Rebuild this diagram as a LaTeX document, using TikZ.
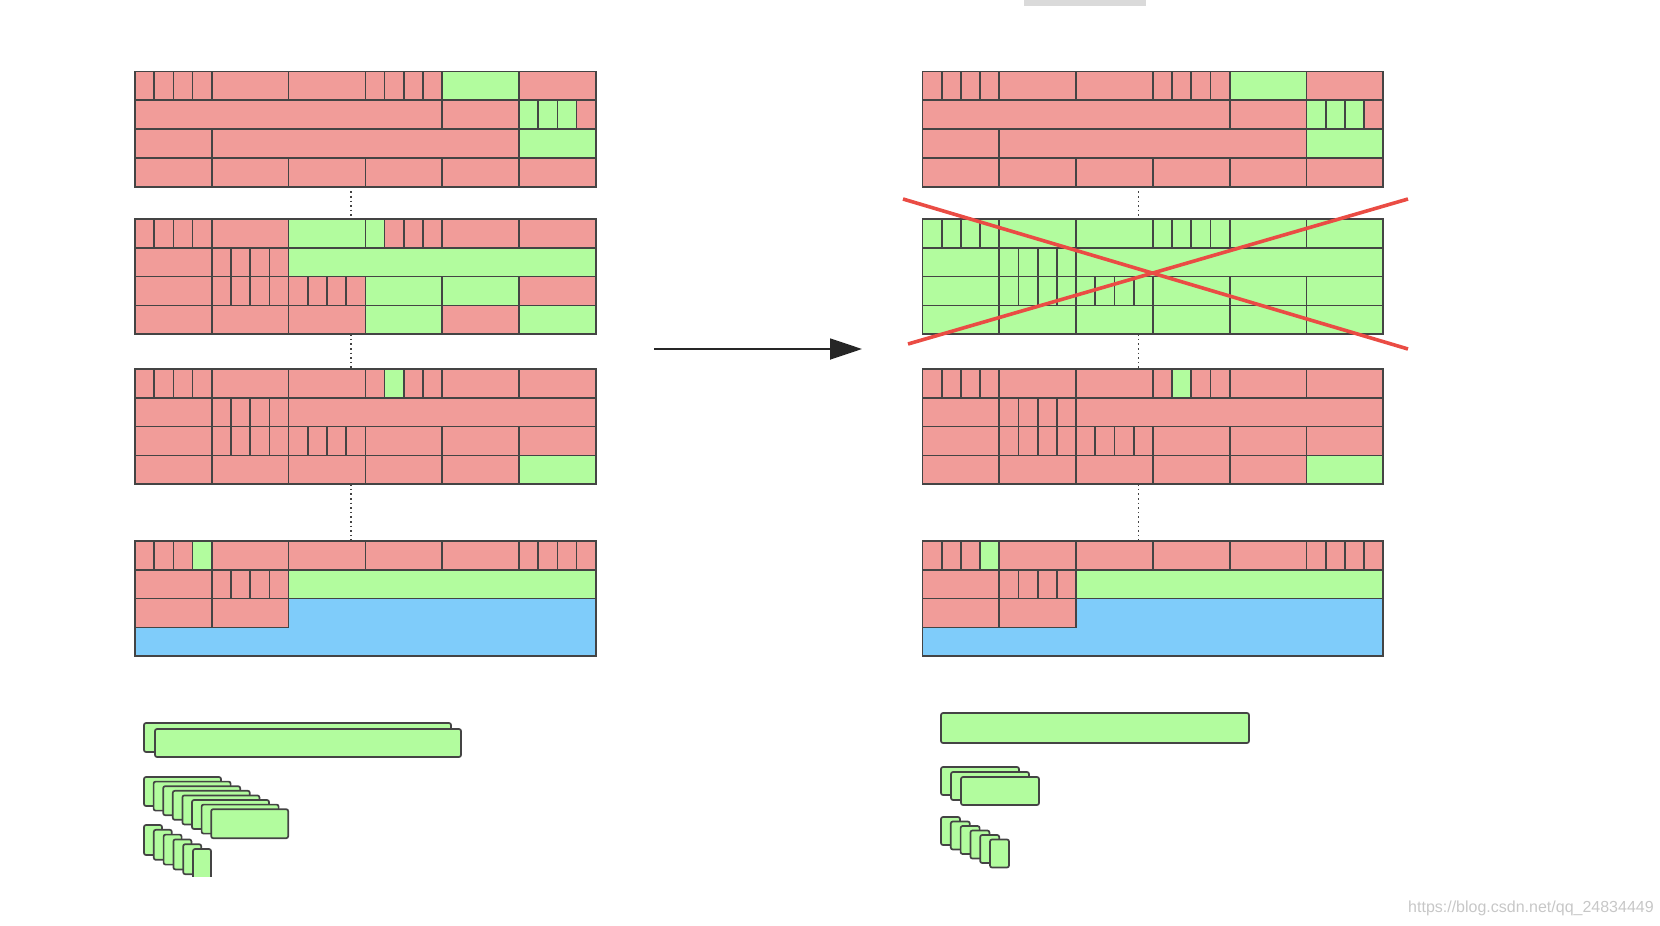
\documentclass[tikz,border=0pt]{standalone}
\usepackage{fontspec}
\newfontfamily\wmfont{Liberation Sans}
\usepackage{tikz}
\usetikzlibrary{arrows.meta,calc}
\definecolor{pk}{RGB}{241,156,153}
\definecolor{gn}{RGB}{178,252,158}
\definecolor{bl}{RGB}{127,204,250}
\definecolor{celledge}{RGB}{68,68,68}
\definecolor{crossred}{RGB}{234,76,68}
\definecolor{bargray}{RGB}{218,218,218}
\tikzset{
  % Memory cell: dark edge, fill given per cell
  cell/.style={draw=celledge, line width=1.7pt},
  % Free-region polygon (blue)
  freearea/.style={cell, fill=bl},
  % Stacked objects under each heap
  stackbox/.style={draw=celledge, fill=gn, line width=1.7pt, rounded corners=2pt},
  % Connectors
  dotlink/.style={draw=celledge, line width=1.4pt, dash pattern=on 1.6pt off 3pt},
  bigarrow/.style={-{Triangle[length=32pt,width=21pt]}, line width=1.8pt, black!85},
  crossline/.style={crossred, line width=3.6pt},
  % Misc
  topbar/.style={fill=bargray},
  wm/.style={font=\wmfont\fontsize{16}{16}\selectfont, text=black!22, inner sep=0pt}
}
% one row of cells: #1 = row index, #2 = list of qstart/qend/colour (in quarter columns)
\newcommand{\memrow}[2]{%
  \foreach \qa/\qb/\fc in {#2} {\draw[cell, fill=\fc] (\qa,#1) rectangle (\qb,#1+1);}}

\begin{document}
\begin{tikzpicture}[x=1pt, y=-1pt]
\useasboundingbox (0,0) rectangle (1660,926);

\fill[topbar] (1024,0) rectangle (1146,5.5);

% ============== BLOCKS 1, 3, 4 (same on both sides) ==============
\foreach \side/\bx in {L/135,R/922.5} {
  % block 1
  \begin{scope}[shift={(\bx,71.5)}, x=19.2pt, y=-28.8pt]
    \memrow{0}{0/1/pk,1/2/pk,2/3/pk,3/4/pk,4/8/pk,8/12/pk,12/13/pk,13/14/pk,14/15/pk,15/16/pk,16/20/gn,20/24/pk}
    \memrow{1}{0/16/pk,16/20/pk,20/21/gn,21/22/gn,22/23/gn,23/24/pk}
    \memrow{2}{0/4/pk,4/20/pk,20/24/gn}
    \memrow{3}{0/4/pk,4/8/pk,8/12/pk,12/16/pk,16/20/pk,20/24/pk}
    \coordinate (\side1-top) at (11.25,0);
    \coordinate (\side1-bot) at (11.25,4);
  \end{scope}
  % block 3
  \begin{scope}[shift={(\bx,369)}, x=19.2pt, y=-28.8pt]
    \memrow{0}{0/1/pk,1/2/pk,2/3/pk,3/4/pk,4/8/pk,8/12/pk,12/13/pk,13/14/gn,14/15/pk,15/16/pk,16/20/pk,20/24/pk}
    \memrow{1}{0/4/pk,4/5/pk,5/6/pk,6/7/pk,7/8/pk,8/24/pk}
    \memrow{2}{0/4/pk,4/5/pk,5/6/pk,6/7/pk,7/8/pk,8/9/pk,9/10/pk,10/11/pk,11/12/pk,12/16/pk,16/20/pk,20/24/pk}
    \memrow{3}{0/4/pk,4/8/pk,8/12/pk,12/16/pk,16/20/pk,20/24/gn}
    \coordinate (\side3-top) at (11.25,0);
    \coordinate (\side3-bot) at (11.25,4);
  \end{scope}
  % block 4 (with free area)
  \begin{scope}[shift={(\bx,541)}, x=19.2pt, y=-28.8pt]
    \draw[freearea] (8,2) -- (24,2) -- (24,4) -- (0,4) -- (0,3) -- (8,3) -- cycle;
    \memrow{0}{0/1/pk,1/2/pk,2/3/pk,3/4/gn,4/8/pk,8/12/pk,12/16/pk,16/20/pk,20/21/pk,21/22/pk,22/23/pk,23/24/pk}
    \memrow{1}{0/4/pk,4/5/pk,5/6/pk,6/7/pk,7/8/pk,8/24/gn}
    \memrow{2}{0/4/pk,4/8/pk}
    \coordinate (\side4-top) at (11.25,0);
  \end{scope}
}

% ============== BLOCK 2, LEFT (mixed) ==============
\begin{scope}[shift={(135,219)}, x=19.2pt, y=-28.8pt]
  \memrow{0}{0/1/pk,1/2/pk,2/3/pk,3/4/pk,4/8/pk,8/12/gn,12/13/gn,13/14/pk,14/15/pk,15/16/pk,16/20/pk,20/24/pk}
  \memrow{1}{0/4/pk,4/5/pk,5/6/pk,6/7/pk,7/8/pk,8/24/gn}
  \memrow{2}{0/4/pk,4/5/pk,5/6/pk,6/7/pk,7/8/pk,8/9/pk,9/10/pk,10/11/pk,11/12/pk,12/16/gn,16/20/gn,20/24/pk}
  \memrow{3}{0/4/pk,4/8/pk,8/12/pk,12/16/gn,16/20/pk,20/24/gn}
  \coordinate (L2-top) at (11.25,0);
  \coordinate (L2-bot) at (11.25,4);
\end{scope}

% ============== BLOCK 2, RIGHT (all free, crossed out) ==============
\begin{scope}[shift={(922.5,219)}, x=19.2pt, y=-28.8pt]
  \memrow{0}{0/1/gn,1/2/gn,2/3/gn,3/4/gn,4/8/gn,8/12/gn,12/13/gn,13/14/gn,14/15/gn,15/16/gn,16/20/gn,20/24/gn}
  \memrow{1}{0/4/gn,4/5/gn,5/6/gn,6/7/gn,7/8/gn,8/24/gn}
  \memrow{2}{0/4/gn,4/5/gn,5/6/gn,6/7/gn,7/8/gn,8/9/gn,9/10/gn,10/11/gn,11/12/gn,12/16/gn,16/20/gn,20/24/gn}
  \memrow{3}{0/4/gn,4/8/gn,8/12/gn,12/16/gn,16/20/gn,20/24/gn}
  \coordinate (R2-top) at (11.25,0);
  \coordinate (R2-bot) at (11.25,4);
\end{scope}
\draw[crossline] (903,199) -- (1408,349);
\draw[crossline] (908,344) -- (1408,199);

% ============== DOTTED LINKS BETWEEN BLOCKS ==============
\foreach \side in {L,R} {
  \draw[dotlink] (\side1-bot) -- (\side2-top);
  \draw[dotlink] (\side2-bot) -- (\side3-top);
  \draw[dotlink] (\side3-bot) -- (\side4-top);
}

% ============== ARROW ==============
\coordinate (arrS) at (654,349);
\coordinate (arrE) at (862,349);
\draw[bigarrow] (arrS) -- (arrE);

% ============== STACKS, LEFT ==============
\draw[stackbox] (144,723) rectangle (451,752);
\draw[stackbox] (155,729) rectangle (461,757);
\foreach \k in {0,...,7}
  \draw[stackbox] (144+\k*9.6,777+\k*4.6) rectangle ++(77,29);
\begin{scope}
  \clip (0,0) rectangle (1660,876);
  \foreach \k in {0,...,5}
    \draw[stackbox] (144+\k*9.8,825+\k*4.8) rectangle ++(18,30);
\end{scope}

% ============== STACKS, RIGHT ==============
\draw[stackbox] (941,713) rectangle (1249,743);
\foreach \k in {0,...,2}
  \draw[stackbox] (941+\k*10,767+\k*5) rectangle ++(78,28);
\foreach \k in {0,...,5}
  \draw[stackbox] (941+\k*9.8,817+\k*4.5) rectangle ++(19,28);

\node[wm, anchor=west] (wmark) at (1408,908) {https://blog.csdn.net/qq\_24834449};

\end{tikzpicture}
\end{document}
